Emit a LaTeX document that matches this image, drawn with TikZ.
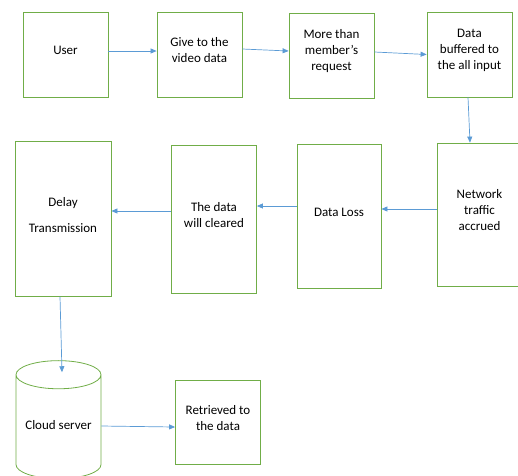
\documentclass[tikz,border=0pt]{standalone}
\usepackage{fontspec}
\setmainfont{Carlito}
\usetikzlibrary{shapes.geometric, arrows.meta, positioning}
\definecolor{boxgreen}{RGB}{112,173,71}
\definecolor{arrowblue}{RGB}{91,155,213}
\tikzset{
	steptext/.style={align=center, inner sep=0pt, yshift=4pt, font=\fontsize{13}{16}\selectfont},
	stepbox/.style={draw=boxgreen, line width=0.8pt, minimum width=85pt, minimum height=85pt, inner sep=0pt, label={[steptext]center:#1}},
	flow/.style={draw=arrowblue, line width=0.7pt, -{Triangle[length=6pt,width=5pt]}}
}

\begin{document}
\begin{tikzpicture}[x=1pt, y=-1pt]
				\useasboundingbox (0,0) rectangle (518,475);
				\clip (0,0) rectangle (518,475);
				\node [stepbox={User}] (user) at (65.5,54.5) {};
				\node [stepbox={Give to the\\video data}] (give) at (199.5,54.5) {};
				\node [stepbox={More than\\member's\\request}] (more) at (331.5,55.5) {};
				\node [stepbox={Data\\buffered to\\the all input}] (buff) at (469.5,54.5) {};
				
				\node [stepbox={Network\\traffic\\accrued}, minimum height=143pt] (net) at (479.5,214.5) {};
				\node [stepbox={Data Loss}, minimum width=84pt, minimum height=144pt] (loss) at (339,216) {};
				\node [stepbox={The data\\will cleared}, minimum height=148pt] (clear) at (214,219.3) {};
				\node [stepbox={Delay\\[10pt]Transmission}, minimum width=96pt, minimum height=155pt] (delay) at (63,218.7) {};
				
				\node [stepbox={Cloud server}, cylinder, shape border rotate=90, aspect=0.4, minimum height=118pt, inner sep=2pt, font=\fontsize{13}{16}\selectfont] (cloud) at (58.5,429) {\phantom{Cloud server}};
				\node [stepbox={Retrieved to\\the data}, minimum height=84pt] (ret) at (218,422.3) {};
				
				\draw [flow] ([yshift=3.5pt]user.east) -- ([yshift=3.5pt]give.west);
				\draw [flow] ([yshift=5.5pt]give.east) -- ([yshift=4.5pt]more.west);
				\draw [flow] ([yshift=3.5pt]more.east) -- (buff.west);
				\draw [flow] ([xshift=-1.5pt]buff.south) -- ([xshift=-9.5pt]net.north);
				\draw [flow] ([yshift=5.5pt]net.west) -- ([yshift=7pt]loss.east);
				\draw [flow] ([yshift=10pt]loss.west) -- ([yshift=13.3pt]clear.east);
				\draw [flow] ([yshift=8.3pt]clear.west) -- ([yshift=7.7pt]delay.east);
				\draw [flow] ([xshift=-3pt]delay.south) -- ([xshift=3.5pt, yshift=-12pt]cloud.top);
				\draw [flow] ([yshift=3pt]cloud.east) -- ([yshift=-4.7pt]ret.west);
\end{tikzpicture}
\end{document}
